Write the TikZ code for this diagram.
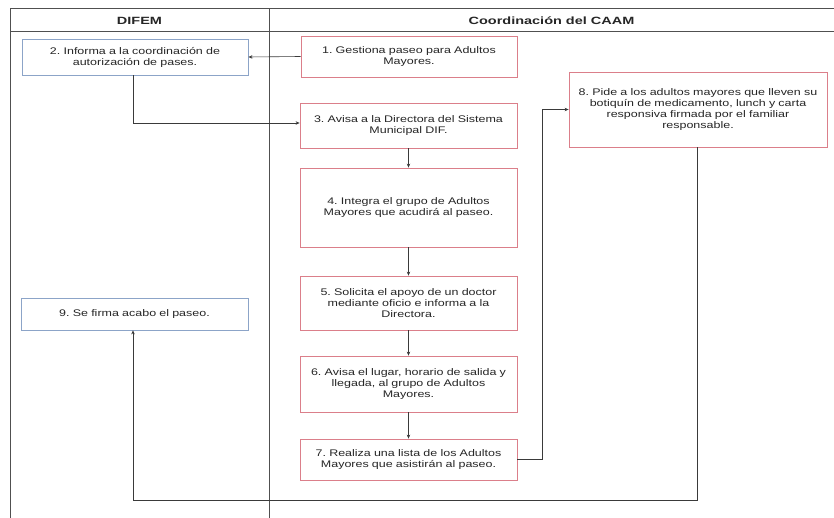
\documentclass[tikz,border=0pt]{standalone}
\usepackage{fontspec}
\setmainfont{Liberation Sans}
\newfontfamily\widefont[FakeStretch=1.3]{Liberation Sans}
\newfontfamily\widebold[FakeStretch=1.38,FakeBold=0]{Liberation Sans Bold}
\usetikzlibrary{arrows.meta,calc}
\definecolor{redb}{HTML}{DB7F8A}
\definecolor{blueb}{HTML}{8CA4C8}
\definecolor{lanec}{HTML}{505050}
\definecolor{linec}{HTML}{3A3A3A}
\frenchspacing
\begin{document}
\begin{tikzpicture}[x=1pt,y=-1pt,
  redbox/.style={draw=redb,line width=0.8pt,fill=white,align=center,inner sep=2pt,
    font=\widefont\fontsize{9.6}{11}\selectfont,text=black!85},
  bluebox/.style={draw=blueb,line width=0.8pt,fill=white,align=center,inner sep=2pt,
    font=\widefont\fontsize{9.6}{11}\selectfont,text=black!85},
  lane/.style={draw=lanec,line width=1pt},
  conn/.style={draw=linec,line width=0.6pt,-{Stealth[length=4pt,width=3.5pt]}},
  hdr/.style={font=\widebold\fontsize{10.5}{12}\selectfont,text=black!85}]
\useasboundingbox (0,0) rectangle (834,518);
% lanes
\draw[lane] (10,9) -- (834,9);
\draw[lane] (10,32) -- (834,32);
\draw[lane] (10,9) -- (10,518);
\draw[lane] (269,9) -- (269,518);
\node[hdr] (hdifem) at (139.5,20.5) {DIFEM};
\node[hdr] (hcaam) at (551.5,20.5) {Coordinación del CAAM};
% boxes
\node[redbox,minimum width=216pt,minimum height=41pt,text width=210pt] (b1) at (409,56.5)
  {1. Gestiona paseo para Adultos\\Mayores.};
\node[bluebox,minimum width=226pt,minimum height=36pt,text width=220pt] (b2) at (135,57)
  {2. Informa a la coordinación de\\autorización de pases.};
\node[redbox,minimum width=217pt,minimum height=45pt,text width=211pt] (b3) at (408.5,125.5)
  {3. Avisa a la Directora del Sistema\\Municipal DIF.};
\node[redbox,minimum width=217pt,minimum height=79pt,text width=211pt] (b4) at (408.5,207.5)
  {4. Integra el grupo de Adultos\\Mayores que acudirá al paseo.};
\node[redbox,minimum width=217pt,minimum height=54pt,text width=211pt] (b5) at (408.5,303)
  {5. Solicita el apoyo de un doctor\\mediante oficio e informa a la\\Directora.};
\node[redbox,minimum width=217pt,minimum height=56pt,text width=211pt] (b6) at (408.5,384)
  {6. Avisa el lugar, horario de salida y\\llegada, al grupo de Adultos\\Mayores.};
\node[redbox,minimum width=217pt,minimum height=41pt,text width=211pt] (b7) at (408.5,459.5)
  {7. Realiza una lista de los Adultos\\Mayores que asistirán al paseo.};
\node[redbox,minimum width=258pt,minimum height=75pt,text width=252pt] (b8) at (698,109.5)
  {8. Pide a los adultos mayores que lleven su\\botiquín de medicamento, lunch y carta\\responsiva firmada por el familiar\\responsable.};
\node[bluebox,minimum width=227pt,minimum height=32pt,text width=221pt] (b9) at (134.5,314)
  {9. Se firma acabo el paseo.};
% connectors
\coordinate (c1) at (133,123);
\coordinate (c2a) at (542,459.5);
\coordinate (c2b) at (542,109.5);
\coordinate (c3a) at (697,500);
\coordinate (c3b) at (133,500);
\draw[conn] (b1.west) -- (b2.east);
\draw[conn] (b2.south -| c1) -- (c1) -- (c1 -| b3.west);
\draw[conn] (b3) -- (b4);
\draw[conn] (b4) -- (b5);
\draw[conn] (b5) -- (b6);
\draw[conn] (b6) -- (b7);
\draw[conn] (b7.east) -- (c2a) -- (c2b) -- (b8.west);
\draw[conn] (b8.south -| c3a) -- (c3a) -- (c3b) -- (c3b |- b9.south);
\end{tikzpicture}
\end{document}
